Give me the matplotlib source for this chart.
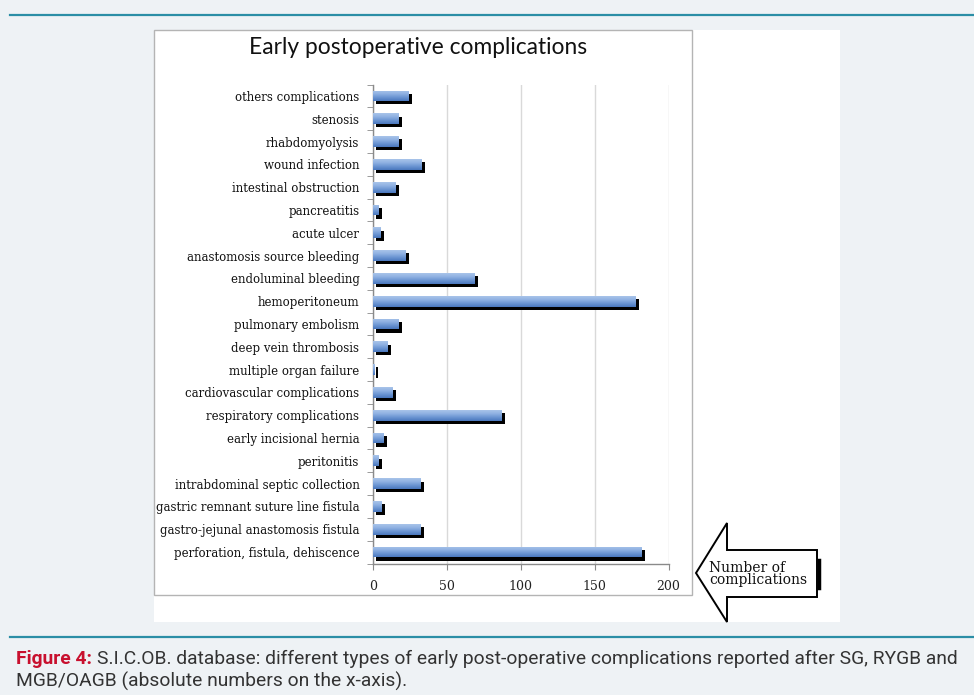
import numpy as np
import matplotlib
matplotlib.use("Agg")
import matplotlib.pyplot as plt
from matplotlib.patches import Rectangle, Polygon
from matplotlib.lines import Line2D
from matplotlib.colors import LinearSegmentedColormap
import matplotlib.patheffects as pe

# data, top to bottom as in the chart
categories = [
    "others complications", "stenosis", "rhabdomyolysis", "wound infection",
    "intestinal obstruction", "pancreatitis", "acute ulcer",
    "anastomosis source bleeding", "endoluminal bleeding", "hemoperitoneum",
    "pulmonary embolism", "deep vein thrombosis", "multiple organ failure",
    "cardiovascular complications", "respiratory complications",
    "early incisional hernia", "peritonitis", "intrabdominal septic collection",
    "gastric remnant suture line fistula", "gastro-jejunal anastomosis fistula",
    "perforation, fistula, dehiscence",
]
counts = [24, 17, 17, 33, 15, 4, 5, 22, 69, 178, 17, 10, 1, 13, 87, 7, 4, 32, 6, 32, 182]
x_ticks = [0, 50, 100, 150, 200]

W, H = 974, 695
BG = "#eef2f5"
TEAL = "#2b8ea6"

fig = plt.figure(figsize=(W / 100, H / 100), dpi=100, facecolor=BG)


def fx(x):
    return x / W


def fy(y):
    return 1 - y / H


def frect(x0, y0, x1, y1, **kw):
    r = Rectangle((fx(x0), fy(y1)), fx(x1) - fx(x0), fy(y0) - fy(y1),
                  transform=fig.transFigure, **kw)
    fig.patches.append(r)
    return r


# page decorations
fig.add_artist(Line2D([fx(10), 1], [fy(15), fy(15)], color=TEAL, lw=1.6,
                      transform=fig.transFigure))
fig.add_artist(Line2D([fx(10), 1], [fy(637), fy(637)], color=TEAL, lw=1.6,
                      transform=fig.transFigure))

# white panel and chart frame
frect(154, 30, 840, 622, facecolor="white", edgecolor="none", zorder=-2)
frect(154, 30, 692, 595, facecolor="none", edgecolor="#b4b4b4", lw=1, zorder=-1)

# axes
ax = fig.add_axes([fx(373.3), fy(563.5), fx(668.5) - fx(373.3), fy(84.5) - fy(563.5)])
ax.set_zorder(2)
ax.set_facecolor("white")
ypos = np.arange(len(categories))
bars = ax.barh(ypos, counts, height=0.47, color="#6f97d3", zorder=3)

cmap = LinearSegmentedColormap.from_list(
    "bar", ["#a9c4ea", "#8fb1e2", "#6a94d2", "#4a77bd"])
grad = np.linspace(0, 1, 64).reshape(-1, 1)
for b in bars:
    b.set_path_effects([pe.SimplePatchShadow(offset=(2.3, -2.3), shadow_rgbFace="black",
                                             alpha=1.0), pe.Normal()])
    x0, y0 = b.get_x(), b.get_y()
    w, h = b.get_width(), b.get_height()
    im = ax.imshow(grad, extent=[x0, x0 + w, y0, y0 + h], aspect="auto",
                   cmap=cmap, origin="lower", zorder=4, interpolation="bilinear")
    im.set_clip_path(b)

ax.set_xlim(0, 200)
ax.set_ylim(len(categories) - 0.5, -0.5)
ax.set_xticks(x_ticks)
ax.set_xticklabels([str(v) for v in x_ticks], family="DejaVu Serif", fontsize=9,
                   color="#222222")
ax.set_yticks(ypos)
ax.set_yticklabels(categories, family="DejaVu Serif", fontsize=8.5, color="#111111")
ax.set_yticks(np.arange(-0.5, len(categories), 1), minor=True)
ax.tick_params(axis="y", which="major", length=0, pad=10)
ax.tick_params(axis="y", which="minor", length=4, color="#8a8a8a", direction="out")
ax.tick_params(axis="x", length=4, color="#8a8a8a", pad=8)
ax.grid(axis="x", color="#d9d9d9", lw=1, zorder=0)
ax.set_axisbelow(True)
for s in ["top", "right"]:
    ax.spines[s].set_visible(False)
for s in ["left", "bottom"]:
    ax.spines[s].set_color("#8a8a8a")
    ax.spines[s].set_linewidth(1)

# title
fig.text(fx(418), fy(47), "Early postoperative complications", family="Lato",
         fontsize=16.4, ha="center", va="center", color="#111111")

# arrow box
arrow_pts = [(696, 573), (727, 523), (727, 550), (817, 550), (817, 597),
             (727, 597), (727, 622)]
poly = Polygon([(fx(x), fy(y)) for x, y in arrow_pts], closed=True,
               transform=fig.transFigure, facecolor="white", edgecolor="black",
               lw=1.4, zorder=5)
fig.patches.append(poly)
fig.add_artist(Line2D([fx(818.5), fx(818.5)], [fy(560), fy(588)], color="black", lw=2.5,
                      transform=fig.transFigure, zorder=6))
fig.text(fx(709), fy(574), "Number of\ncomplications", family="DejaVu Serif",
         fontsize=10, ha="left", va="center", linespacing=0.8, color="#111111",
         zorder=7)

# caption
renderer = fig.canvas.get_renderer()
t1 = fig.text(fx(16), fy(659), "Figure 4:", family="Roboto", weight="bold",
              fontsize=13.9, color="#c8102e", ha="left", va="center")
bb = t1.get_window_extent(renderer)
fig.text(bb.x1 / W + fx(5), fy(659),
         "S.I.C.OB. database: different types of early post-operative complications "
         "reported after SG, RYGB and",
         family="Roboto", fontsize=13.9, color="#333333", ha="left", va="center")
fig.text(fx(16), fy(681), "MGB/OAGB (absolute numbers on the x-axis).",
         family="Roboto", fontsize=13.9, color="#333333", ha="left", va="center")

fig.savefig("out.png", dpi=100, facecolor=BG)
